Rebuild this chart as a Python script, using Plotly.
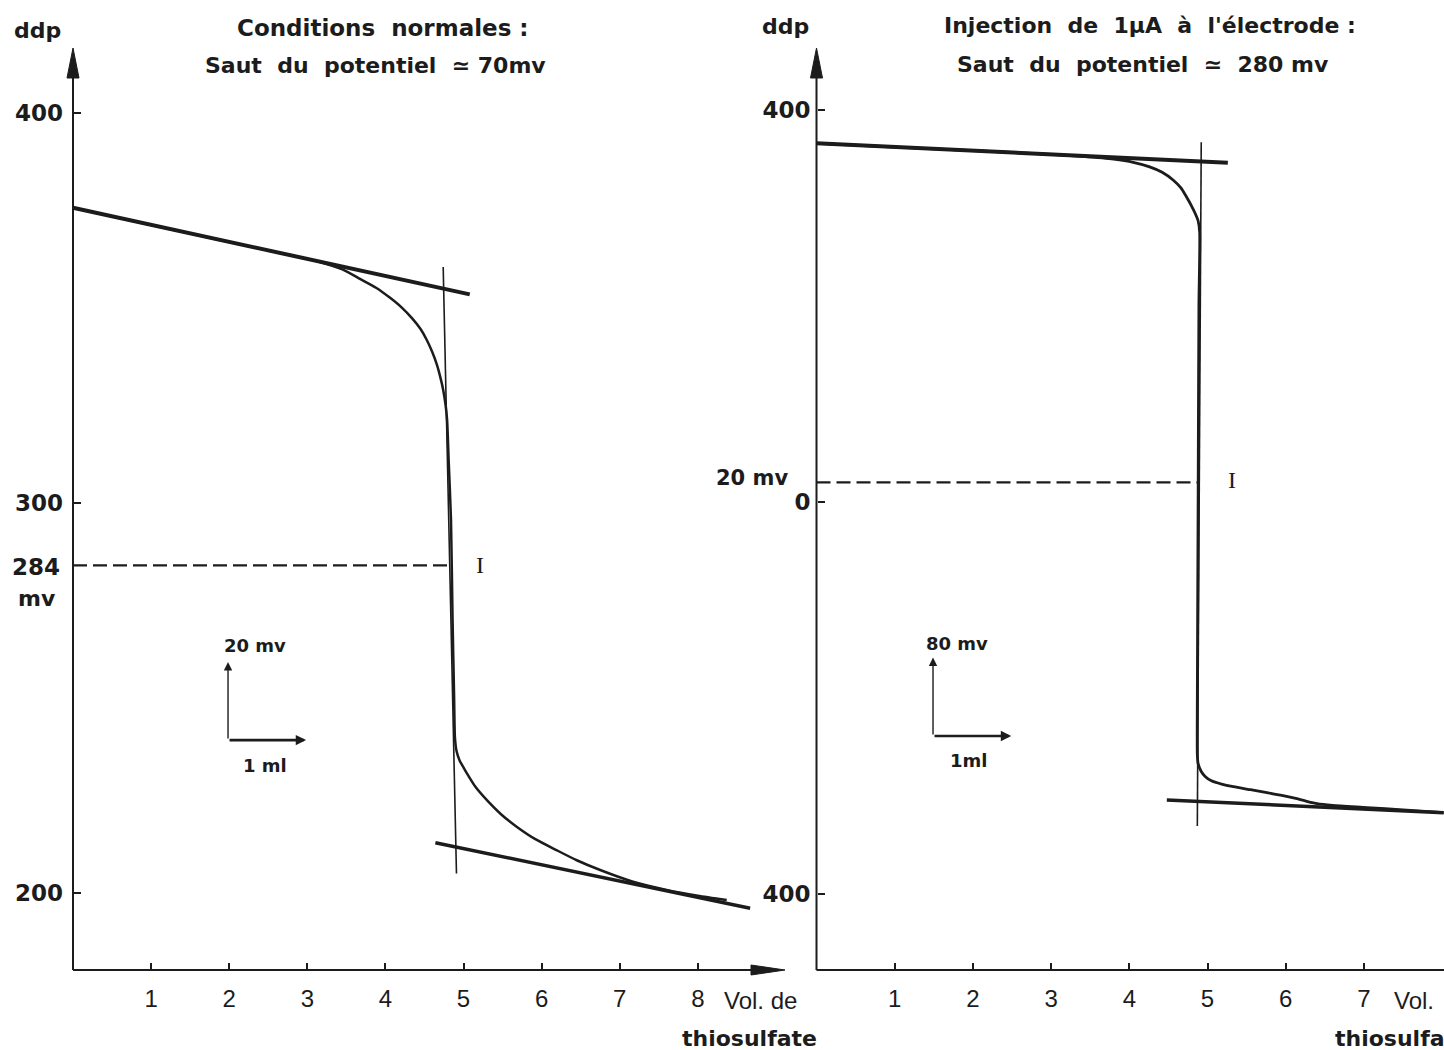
import plotly.graph_objects as go

W, H = 1444, 1050
INK = "#1c1c1c"
FONT = "Liberation Sans"
WIDE = "DejaVu Sans"

# ---------------- data ----------------
# Left panel : conditions normales (ml, mV)
left_vol = [0.0, 1.0, 2.0, 3.0, 3.16, 3.45, 3.68, 3.88, 4.06, 4.21, 4.34, 4.45, 4.53, 4.60, 4.66, 4.71,
            4.74, 4.77, 4.79, 4.81, 4.84, 4.86, 4.88, 4.89, 4.91, 4.95, 5.00, 5.04, 5.15, 5.30, 5.48, 5.68,
            5.92, 6.19, 6.45, 6.75, 7.17, 7.60, 8.00, 8.37]
left_ddp = [375.7, 371.3, 366.9, 362.6, 361.8, 359.9, 357.4, 355.2, 352.6, 350.1, 347.4, 344.6, 341.8,
            338.7, 335.4, 331.7, 329.0, 325.2, 321.3, 311.0, 295.6, 270.0, 250.0, 240.0, 236.5, 234.0,
            232.2, 230.8, 227.3, 223.8, 220.2, 217.0, 213.8, 211.0, 208.4, 205.9, 202.9, 200.8, 199.3, 198.2]
left_tan_up_vol = [0.0, 5.08]
left_tan_up_ddp = [375.7, 353.5]
left_tan_lo_vol = [4.64, 8.67]
left_tan_lo_ddp = [212.9, 196.1]
left_vert_vol = [4.74, 4.91]
left_vert_ddp = [360.5, 205.0]
left_half_vol = [0.0, 4.82]
left_half_ddp = [284, 284]
left_ticks_y = [200, 300, 400]
left_ticks_x = [1, 2, 3, 4, 5, 6, 7, 8]

# Right panel : injection de 1 µA (ml, mV)
right_vol = [0.0, 1.0, 2.0, 3.0, 3.40, 3.80, 4.05, 4.26, 4.42, 4.56, 4.66, 4.73, 4.79, 4.84, 4.88,
             4.90, 4.89, 4.88, 4.87, 4.87, 4.88, 4.92, 4.97, 5.05, 5.18, 5.33, 5.55, 5.76, 5.95, 6.10,
             6.25, 6.40, 6.60, 7.04, 7.50, 8.02]
right_ddp = [366.0, 362.2, 358.5, 354.7, 352.6, 349.8, 346.6, 342.0, 336.5, 328.6, 320.5, 311.5,
             303.0, 294.9, 287.0, 275.0, 200.0, 0.0, -200.0, -258.0, -267.0, -275.0, -280.0, -284.5,
             -287.8, -290.5, -293.6, -296.6, -299.4, -302.0, -305.0, -307.8, -309.6, -311.8, -314.2, -317.0]
right_tan_up_vol = [0.0, 5.26]
right_tan_up_ddp = [366.0, 346.2]
right_tan_lo_vol = [4.48, 8.02]
right_tan_lo_ddp = [-304.0, -317.0]
right_vert_vol = [4.92, 4.87]
right_vert_ddp = [367.0, -330.6]
right_half_vol = [0.0, 4.88]
right_half_ddp = [20, 20]
right_ticks_y = [-400, 0, 400]
right_ticks_y_text = ["400", "0", "400"]
right_ticks_x = [1, 2, 3, 4, 5, 6, 7]

# scale bars (origin, mv step, ml step)
left_bar = dict(vol=1.985, ddp=239.2, dmv=20, dml=1)
right_bar = dict(vol=1.49, ddp=-238.8, dmv=80, dml=1)

# ---------------- calibration (pixel geometry) ----------------
L_X0, L_PPML, L_Y400, L_PPMV = 73.0, 78.1, 113.0, 3.9
R_X0, R_PPML, R_Y0, R_PPMV = 816.5, 78.2, 502.0, 0.98
TOP_PX, BOT_PX, AXIS_PX = 30.0, 1000.0, 970.0

def lx(px): return (px - L_X0) / L_PPML
def ly(py): return 400 - (py - L_Y400) / L_PPMV
def rx(px): return (px - R_X0) / R_PPML
def ry(py): return (R_Y0 - py) / R_PPMV

ydom = [1 - BOT_PX / H, 1 - TOP_PX / H]
L_XAX = ly(AXIS_PX)
R_XAX = ry(AXIS_PX)
L_XTIP = lx(785)
L_YTIP = ly(48)
R_YTIP = ry(48)
R_XEND = rx(1444)

fig = go.Figure()

def line(xs, ys, w, xa="x", ya="y", dash=None, smooth=False):
    ln = dict(color=INK, width=w, dash=dash)
    if smooth:
        ln.update(shape="spline", smoothing=0.6)
    fig.add_trace(go.Scatter(x=xs, y=ys, mode="lines", xaxis=xa, yaxis=ya, hoverinfo="skip",
                             line=ln, showlegend=False))

def tri(xs, ys, xa, ya):
    fig.add_trace(go.Scatter(x=xs, y=ys, mode="lines", fill="toself", fillcolor=INK, xaxis=xa, yaxis=ya,
                             line=dict(color=INK, width=1), hoverinfo="skip", showlegend=False))

# ---- left panel ----
line([0, 0], [L_XAX, L_YTIP - 20 / L_PPMV], 2)
tri([0, -6 / L_PPML, 6 / L_PPML, 0], [L_YTIP, L_YTIP - 30 / L_PPMV, L_YTIP - 30 / L_PPMV, L_YTIP], "x", "y")
line([0, L_XTIP - 20 / L_PPML], [L_XAX, L_XAX], 2.2)
tri([L_XTIP, L_XTIP - 34 / L_PPML, L_XTIP - 34 / L_PPML, L_XTIP],
    [L_XAX, L_XAX + 5 / L_PPMV, L_XAX - 5 / L_PPMV, L_XAX], "x", "y")
line(left_half_vol, left_half_ddp, 2.3, dash="14px,6px")
line(left_vert_vol, left_vert_ddp, 1.6)
line(left_tan_up_vol, left_tan_up_ddp, 4)
line(left_tan_lo_vol, left_tan_lo_ddp, 3.5)
line(left_vol, left_ddp, 2.5, smooth=True)

# ---- right panel ----
line([0, 0], [R_XAX, R_YTIP - 20 / R_PPMV], 2, "x2", "y2")
tri([0, -6 / R_PPML, 6 / R_PPML, 0], [R_YTIP, R_YTIP - 30 / R_PPMV, R_YTIP - 30 / R_PPMV, R_YTIP], "x2", "y2")
line([0, R_XEND], [R_XAX, R_XAX], 2.2, "x2", "y2")
line(right_half_vol, right_half_ddp, 2.3, "x2", "y2", dash="14px,6px")
line(right_vert_vol, right_vert_ddp, 1.6, "x2", "y2")
line(right_tan_up_vol, right_tan_up_ddp, 4, "x2", "y2")
line(right_tan_lo_vol, right_tan_lo_ddp, 3.5, "x2", "y2")
line(right_vol, right_ddp, 2.8, "x2", "y2", smooth=True)

ann = []
def txt(x, y, s, size, xref="paper", yref="paper", xanchor="center", bold=True, family=WIDE, yanchor="middle"):
    ann.append(dict(x=x, y=y, xref=xref, yref=yref, text=s, showarrow=False, xanchor=xanchor, yanchor=yanchor,
                    font=dict(family=family, size=size, color=INK, weight="bold" if bold else "normal")))

# titles
txt(383 / W, 1 - 28 / H, "Conditions  normales :", 23)
txt(375 / W, 1 - 66 / H, "Saut  du  potentiel  ≃ 70mv", 22)
txt(1150 / W, 1 - 25 / H, "Injection  de  1µA  à  l'électrode :", 22)
txt(1143 / W, 1 - 64 / H, "Saut  du  potentiel  ≃  280 mv", 22)
txt(37 / W, 1 - 30 / H, "ddp", 22)
txt(785 / W, 1 - 26 / H, "ddp", 22)
# axis titles
txt(760 / W, 1 - 1000 / H, "Vol. de", 24, bold=False, family=FONT)
txt(749 / W, 1 - 1038 / H, "thiosulfate", 22)
txt(1392 / W, 1 - 1000 / H, "Vol.", 24, xanchor="left", bold=False, family=FONT)
txt(1333 / W, 1 - 1038 / H, "thiosulfate", 22, xanchor="left")
# left labels
txt(62 / W, 1 - 567 / H, "284", 23, xanchor="right")
txt(58 / W, 1 - 598 / H, "mv", 22, xanchor="right")
txt(5.21, 284, "I", 24, "x", "y", bold=False, family="Liberation Serif")
# right labels
txt(790 / W, 1 - 478 / H, "20 mv", 21, xanchor="right")
txt(5.31, 22, "I", 24, "x2", "y2", bold=False, family="Liberation Serif")

# scale bars
for b, xa, ya, lab_mv, lab_ml, lpos, mpos in [
        (left_bar, "x", "y", "20 mv", "1 ml", (lx(255), ly(645)), (lx(265), ly(765))),
        (right_bar, "x2", "y2", "80 mv", "1ml", (rx(957), ry(643)), (rx(968), ry(760)))]:
    ann.append(dict(x=b["vol"], y=b["ddp"] + b["dmv"], ax=b["vol"], ay=b["ddp"], xref=xa, yref=ya,
                    axref=xa, ayref=ya, showarrow=True, arrowhead=2, arrowsize=1.2, arrowwidth=1.4,
                    arrowcolor=INK, text=""))
    ann.append(dict(x=b["vol"] + b["dml"], y=b["ddp"], ax=b["vol"], ay=b["ddp"], xref=xa, yref=ya,
                    axref=xa, ayref=ya, showarrow=True, arrowhead=2, arrowsize=0.8, arrowwidth=2.6,
                    arrowcolor=INK, text=""))
    txt(lpos[0], lpos[1], lab_mv, 18, xa, ya)
    txt(mpos[0], mpos[1], lab_ml, 18, xa, ya)

axis_common = dict(showgrid=False, zeroline=False, showline=False, ticks="inside", ticklen=7,
                   tickwidth=1.5, tickcolor=INK, anchor="free")

fig.update_layout(
    width=W, height=H, margin=dict(l=0, r=0, t=0, b=0),
    paper_bgcolor="white", plot_bgcolor="rgba(0,0,0,0)", showlegend=False,
    annotations=ann,
    xaxis=dict(domain=[60 / W, 800 / W], range=[lx(60), lx(800)], tickvals=left_ticks_x,
               position=1 - AXIS_PX / H, ticklabelstandoff=12,
               tickfont=dict(family=FONT, size=24, color=INK), **axis_common),
    yaxis=dict(domain=ydom, range=[ly(BOT_PX), ly(TOP_PX)], tickvals=left_ticks_y,
               position=L_X0 / W, ticklabelstandoff=10,
               tickfont=dict(family=WIDE, size=23, color=INK, weight="bold"), **axis_common),
    xaxis2=dict(domain=[806 / W, 1.0], range=[rx(806), rx(1444)], tickvals=right_ticks_x,
                position=1 - AXIS_PX / H, ticklabelstandoff=12,
                tickfont=dict(family=FONT, size=24, color=INK), **axis_common),
    yaxis2=dict(domain=ydom, range=[ry(BOT_PX), ry(TOP_PX)], tickvals=right_ticks_y,
                ticktext=right_ticks_y_text, position=R_X0 / W, ticklabelstandoff=6,
                tickfont=dict(family=WIDE, size=23, color=INK, weight="bold"), **axis_common),
)

fig.write_html("out.html", config={"displayModeBar": False},
               post_script="document.body.style.margin='0px';document.body.style.overflow='hidden';")
